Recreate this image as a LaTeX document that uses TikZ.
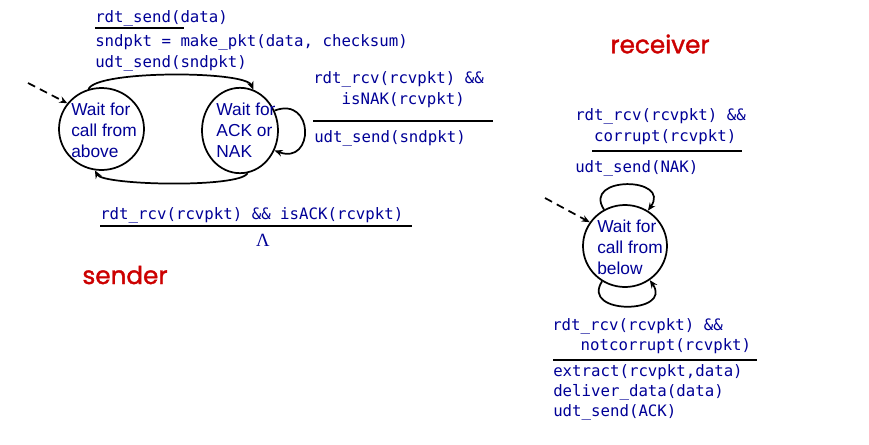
\documentclass[tikz,border=0pt]{standalone}
\usepackage{fontspec}
\usepackage{tikz}
\usetikzlibrary{shapes.geometric,arrows.meta}
\setmainfont{Liberation Sans}
\newfontfamily\codefont{DejaVu Sans Mono}
\newfontfamily\handfont[FakeBold=1.5]{Poppins}
\newfontfamily\lambdafont{Liberation Serif}
\definecolor{fsmblue}{RGB}{0,0,150}
\definecolor{fsmred}{RGB}{204,0,0}

\begin{document}
\begin{tikzpicture}[x=0.75pt,y=-0.75pt,
	statenode/.style={ellipse, draw=black, line width=1.3pt, inner sep=0pt},
	statetext/.style={font=\fontsize{13}{15.75}\selectfont, text=fsmblue, align=left, inner sep=0pt},
	codetext/.style={font=\codefont\fontsize{11.8}{15}\selectfont, text=fsmblue, anchor=base west, inner sep=0pt},
	sidetext/.style={font=\handfont\fontsize{18.5}{22}\selectfont, text=fsmred},
	trans/.style={line width=1.3pt, -{Stealth[length=6pt,width=5pt]}},
	initarrow/.style={line width=1.3pt, dash pattern=on 6pt off 4pt, -{Stealth[length=6pt,width=5pt]}},
	rule/.style={line width=1.5pt}]
		\useasboundingbox (0,0) rectangle (869,444);

		\node[statenode, minimum width=63.75pt, minimum height=61.5pt]	(waitabove) at (101.5,129)	{};
		\node[statenode, minimum width=57pt, minimum height=64pt]	(waitack) at (240,130.5)	{};
		\node[statenode, minimum width=63pt, minimum height=61.5pt]	(waitbelow) at (625,246)	{};
		\node[statetext]	(abovetxt) at (104,130)	{Wait for\\call from\\above};
		\node[statetext]	(acktxt) at (246,130)	{Wait for\\ACK or\\NAK};
		\node[statetext]	(belowtxt) at (630,247.5)	{Wait for\\call from\\below};

		\coordinate (senderstart) at (28,83);
		\coordinate (receiverstart) at (545,198);

		\node[codetext]	(sndev) at (95,22)	{rdt\_send(data)};
		\node[codetext]	(sndact1) at (95,46)	{sndpkt = make\_pkt(data, checksum)};
		\node[codetext]	(sndact2) at (95,67)	{udt\_send(sndpkt)};
		\node[codetext]	(nakev1) at (313,83)	{rdt\_rcv(rcvpkt) \&\&};
		\node[codetext]	(nakev2) at (313,104)	{\phantom{xxx}isNAK(rcvpkt)};
		\node[codetext]	(nakact) at (314,142)	{udt\_send(sndpkt)};
		\node[codetext]	(ackev) at (100,219)	{rdt\_rcv(rcvpkt) \&\& isACK(rcvpkt)};
		\node[codetext, anchor=center, font=\lambdafont\fontsize{14}{16}\selectfont]	(ackact) at (263,240)	{Λ};
		\node[codetext]	(corev1) at (575,120)	{rdt\_rcv(rcvpkt) \&\&};
		\node[codetext]	(corev2) at (575,141)	{\phantom{xx}corrupt(rcvpkt)};
		\node[codetext]	(coract) at (575,172)	{udt\_send(NAK)};
		\node[codetext]	(okev1) at (552,330)	{rdt\_rcv(rcvpkt) \&\&};
		\node[codetext]	(okev2) at (552,350)	{\phantom{xxx}notcorrupt(rcvpkt)};
		\node[codetext]	(okact1) at (553,376)	{extract(rcvpkt,data)};
		\node[codetext]	(okact2) at (553,396)	{deliver\_data(data)};
		\node[codetext]	(okact3) at (553,416)	{udt\_send(ACK)};

		\node[sidetext]	(sender) at (125,275)	{sender};
		\node[sidetext]	(receiver) at (660,44)	{receiver};

		\draw[rule] (95,28) -- (184,28);
		\draw[rule] (313,121) -- (493,121);
		\draw[rule] (100,226) -- (412,226);
		\draw[rule] (592,151) -- (742,151);
		\draw[rule] (553,360) -- (757,360);

		\draw[initarrow] (senderstart) -- (waitabove.143);
		\draw[initarrow] (receiverstart) -- (waitbelow.146);
		\draw[trans] (waitabove.108) .. controls +(8,-19) and +(-8,-19) .. (waitack.72);
		\draw[trans] (waitack.280) .. controls +(-8,15) and +(8,15) .. (waitabove.261);
		\draw[trans] (waitack.30) .. controls +(40,-15) and +(40,15) .. (waitack.-30);
		\draw[trans] (waitbelow.120) .. controls +(-22,-34) and +(24,-34) .. (waitbelow.57);
		\draw[trans] (waitbelow.237) .. controls +(-22,34) and +(24,34) .. (waitbelow.306);

		\end{tikzpicture}
\end{document}
